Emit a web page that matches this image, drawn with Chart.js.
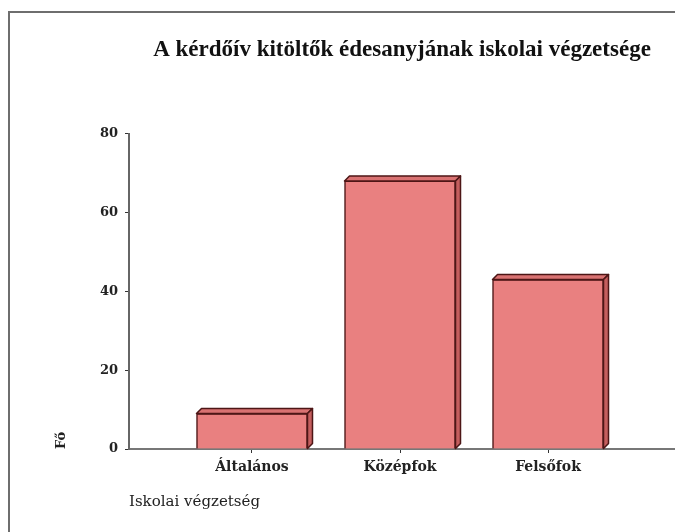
<!DOCTYPE html>
<html>
<head>
<meta charset="utf-8">
<script src="https://cdn.jsdelivr.net/npm/chart.js@4"></script>
<style>
  html, body { margin: 0; padding: 0; background: #fff; overflow: hidden; }
  #frame { position: absolute; left: 8px; top: 11px; width: 700px; height: 560px;
           border-top: 2px solid #6e6e6e; border-left: 2px solid #6e6e6e; }
  #wrap { position: absolute; left: 0; top: 0; width: 675px; height: 532px; }
</style>
</head>
<body>
<div id="frame"></div>
<div id="wrap"><canvas id="chart" width="675" height="532"></canvas></div>
<script>
const categories = ['Általános', 'Középfok', 'Felsőfok']
const counts = [9, 68, 43]
const yTicks = [0, 20, 40, 60, 80]

const titleText = 'A kérdőív kitöltők édesanyjának iskolai végzetsége'
const xTitle = 'Iskolai végzetség'
const yTitle = 'Fő'

// fake 3D: top and side faces drawn off each bar element
const depthPlugin = {
  id: 'depth',
  afterDatasetsDraw(chart) {
    const ctx = chart.ctx
    const d = 5
    chart.getDatasetMeta(0).data.forEach(bar => {
      const p = bar.getProps(['x', 'y', 'base', 'width'], true)
      const l = p.x - p.width / 2, r = p.x + p.width / 2
      ctx.save()
      ctx.lineWidth = 1.5
      ctx.strokeStyle = '#4d1616'
      ctx.lineJoin = 'round'
      // top
      ctx.beginPath()
      ctx.moveTo(l, p.y)
      ctx.lineTo(l + d, p.y - d)
      ctx.lineTo(r + d, p.y - d)
      ctx.lineTo(r, p.y)
      ctx.closePath()
      ctx.fillStyle = '#d97272'
      ctx.fill()
      ctx.stroke()
      // side
      ctx.beginPath()
      ctx.moveTo(r, p.y)
      ctx.lineTo(r + d, p.y - d)
      ctx.lineTo(r + d, p.base - d)
      ctx.lineTo(r, p.base)
      ctx.closePath()
      ctx.fillStyle = '#c45e5e'
      ctx.fill()
      ctx.stroke()
      ctx.restore()
    })
  }
}

new Chart(document.getElementById('chart'), {
  type: 'bar',
  data: {
    datasets: [{
      data: counts.map((v, i) => ({ x: i + 1, y: v })),
      backgroundColor: '#e98080',
      borderColor: '#4d1616',
      borderWidth: 1.5,
      barThickness: 111
    }]
  },
  options: {
    responsive: false,
    animation: false,
    layout: { padding: 0 },
    plugins: {
      legend: { display: false },
      tooltip: { enabled: false },
      title: {
        display: true,
        text: titleText,
        fullSize: false,
        color: '#111',
        font: { family: 'Liberation Serif', size: 23, weight: 'bold' },
        padding: { top: 36, bottom: 70 }
      }
    },
    scales: {
      x: {
        type: 'linear',
        offset: false,
        min: 0.169,
        max: 3.858,
        afterBuildTicks: s => { s.ticks = categories.map((c, i) => ({ value: i + 1 })) },
        afterFit: s => { s.height = 83 },
        ticks: {
          callback: v => categories[v - 1],
          autoSkip: false,
          maxRotation: 0,
          padding: 6,
          color: '#222',
          font: { family: 'DejaVu Serif', size: 14, weight: 'bold' }
        },
        grid: { offset: false, drawOnChartArea: false, tickLength: 4, color: '#333' },
        border: { color: '#777', width: 2 },
        title: {
          display: true,
          text: xTitle,
          align: 'start',
          color: '#222',
          font: { family: 'DejaVu Serif', size: 15 },
          padding: { top: 0, bottom: 21 }
        }
      },
      y: {
        min: 0,
        max: 80,
        afterBuildTicks: s => { s.ticks = yTicks.map(v => ({ value: v })) },
        afterFit: s => { s.width = 129 },
        ticks: {
          padding: 7,
          color: '#222',
          font: { family: 'DejaVu Serif', size: 13, weight: 'bold' }
        },
        grid: { drawOnChartArea: false, tickLength: 4, color: '#333' },
        border: { color: '#666', width: 2 },
        title: {
          display: true,
          text: yTitle,
          align: 'start',
          color: '#222',
          font: { family: 'DejaVu Serif', size: 13, weight: 'bold' },
          padding: { top: 54, bottom: 0 }
        }
      }
    }
  },
  plugins: [depthPlugin]
})
</script>
</body>
</html>
